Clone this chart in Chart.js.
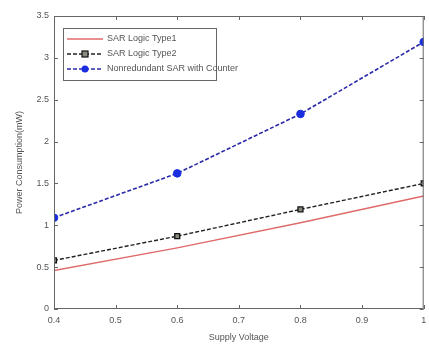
<!DOCTYPE html>
<html>
<head>
<meta charset="utf-8">
<script src="https://cdn.jsdelivr.net/npm/chart.js@4.4.0/dist/chart.umd.min.js"></script>
<style>
  body { margin: 0; background: #fff; }
  #wrap { width: 429px; height: 345px; position: relative; }
</style>
</head>
<body>
<div id="wrap"><canvas id="powerChart"></canvas></div>
<script>
// ---- DATA ----
var voltages   = [0.4, 0.6, 0.8, 1.0];
var sarType1   = [0.46, 0.73, 1.03, 1.35];
var sarType2   = [0.58, 0.87, 1.19, 1.50];
var nonRedund  = [1.09, 1.62, 2.33, 3.19];
var seriesNames = ['SAR Logic Type1', 'SAR Logic Type2', 'Nonredundant SAR with Counter'];
var xTicks = [0.4, 0.5, 0.6, 0.7, 0.8, 0.9, 1];
var yTicks = [0, 0.5, 1, 1.5, 2, 2.5, 3, 3.5];

var FONT = 'Liberation Sans, Arial, sans-serif';

function toPoints(xs, ys){
  return xs.map(function(x, i){ return {x: x, y: ys[i]}; });
}

// box + inward ticks like matlab
var boxPlugin = {
  id: 'boxPlugin',
  afterDraw: function(chart){
    var ctx = chart.ctx, a = chart.chartArea;
    var xs = chart.scales.x, ys = chart.scales.y;
    ctx.save();
    ctx.strokeStyle = '#666';
    ctx.lineWidth = 1;
    ctx.strokeRect(a.left + 0.5, a.top + 0.5, a.right - a.left - 1, a.bottom - a.top - 1);
    ctx.beginPath();
    xTicks.forEach(function(t){
      var px = Math.round(xs.getPixelForValue(t)) + 0.5;
      ctx.moveTo(px, a.bottom); ctx.lineTo(px, a.bottom - 4);
      ctx.moveTo(px, a.top); ctx.lineTo(px, a.top + 4);
    });
    yTicks.forEach(function(t){
      var py = Math.round(ys.getPixelForValue(t)) + 0.5;
      ctx.moveTo(a.left, py); ctx.lineTo(a.left + 4, py);
      ctx.moveTo(a.right, py); ctx.lineTo(a.right - 4, py);
    });
    ctx.stroke();
    ctx.restore();
  }
};

// legend inside plot, top left
var legendBoxPlugin = {
  id: 'legendBoxPlugin',
  afterDraw: function(chart){
    var ctx = chart.ctx, a = chart.chartArea;
    var bx = a.left + 9, by = a.top + 12, bw = 153, bh = 52;
    ctx.save();
    ctx.fillStyle = '#fff';
    ctx.fillRect(bx, by, bw, bh);
    ctx.strokeStyle = '#666';
    ctx.lineWidth = 1;
    ctx.strokeRect(bx + 0.5, by + 0.5, bw, bh);
    ctx.font = '9px ' + FONT;
    ctx.textBaseline = 'middle';
    chart.data.datasets.forEach(function(ds, i){
      var ly = by + 11 + i * 15;
      ctx.strokeStyle = ds.borderColor;
      ctx.lineWidth = ds.borderWidth;
      ctx.setLineDash(ds.borderDash || []);
      ctx.beginPath();
      ctx.moveTo(bx + 4, ly); ctx.lineTo(bx + 40, ly);
      ctx.stroke();
      ctx.setLineDash([]);
      if (ds.pointRadius > 0){
        ctx.fillStyle = ds.pointBackgroundColor;
        ctx.strokeStyle = ds.pointBorderColor;
        ctx.lineWidth = 1.2;
        if (ds.pointStyle === 'rect'){
          ctx.fillRect(bx + 19, ly - 3, 6, 6);
          ctx.strokeRect(bx + 19, ly - 3, 6, 6);
        } else {
          ctx.beginPath();
          ctx.arc(bx + 22, ly, 3.5, 0, Math.PI * 2);
          ctx.fill();
        }
      }
      ctx.fillStyle = '#555';
      ctx.fillText(seriesNames[i], bx + 44, ly);
    });
    ctx.restore();
  }
};

var ctx = document.getElementById('powerChart').getContext('2d');
var powerChart = new Chart(ctx, {
  type: 'line',
  data: {
    datasets: [{
      label: seriesNames[0],
      data: toPoints(voltages, sarType1),
      borderColor: '#e06a6a',
      borderWidth: 1.4,
      pointRadius: 0,
      pointStyle: false
    }, {
      label: seriesNames[1],
      data: toPoints(voltages, sarType2),
      borderColor: '#222',
      borderWidth: 1.4,
      borderDash: [4, 2],
      pointStyle: 'rect',
      pointRadius: 3.5,
      pointBackgroundColor: '#8a8a80',
      pointBorderColor: '#111',
      pointBorderWidth: 1.3
    }, {
      label: seriesNames[2],
      data: toPoints(voltages, nonRedund),
      borderColor: '#2a2aa8',
      borderWidth: 1.6,
      borderDash: [4, 2],
      pointStyle: 'circle',
      pointRadius: 3.8,
      pointBackgroundColor: '#1a2ee0',
      pointBorderColor: '#1a2ee0',
      pointBorderWidth: 1
    }]
  },
  options: {
    responsive: true,
    maintainAspectRatio: false,
    animation: false,
    layout: { padding: { top: 16, right: 0, bottom: 0, left: 0 } },
    plugins: {
      legend: { display: false },
      tooltip: { enabled: false }
    },
    scales: {
      x: {
        type: 'linear',
        min: 0.4, max: 1,
        afterBuildTicks: function(scale){ scale.ticks = xTicks.map(function(v){ return {value: v}; }); },
        grid: { display: false, drawTicks: false },
        border: { display: false },
        ticks: {
          font: { family: FONT, size: 9 }, color: '#555', padding: 6,
          maxRotation: 0,
          callback: function(v){ return String(Math.round(v * 10) / 10); }
        },
        title: { display: true, text: 'Supply Voltage', font: { family: FONT, size: 9 }, color: '#555', padding: { top: 0, bottom: 2 } },
        afterFit: function(scale){ scale.height = 36; scale.paddingRight = 0; scale.paddingLeft = 0; }
      },
      y: {
        min: 0, max: 3.5,
        afterBuildTicks: function(scale){ scale.ticks = yTicks.map(function(v){ return {value: v}; }); },
        grid: { display: false, drawTicks: false },
        border: { display: false },
        ticks: {
          font: { family: FONT, size: 9 }, color: '#555', padding: 5,
          callback: function(v){ return String(v); }
        },
        title: { display: true, text: 'Power Consumption(mW)', font: { family: FONT, size: 9 }, color: '#555', padding: { top: 14, bottom: 0 } },
        afterFit: function(scale){ scale.width = 54; scale.paddingTop = 0; }
      }
    }
  },
  plugins: [boxPlugin, legendBoxPlugin]
});
</script>
</body>
</html>
